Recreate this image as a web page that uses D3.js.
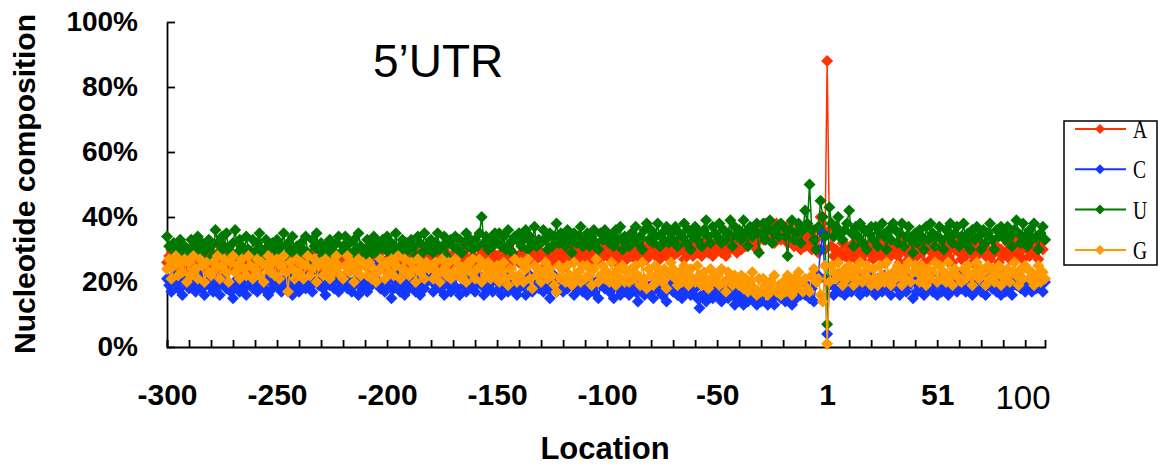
<!DOCTYPE html>
<html>
<head>
<meta charset="utf-8">
<style>
  body { margin: 0; background: #fff; }
  svg { display: block; font-family: "Liberation Sans", Arial, sans-serif; }
</style>
</head>
<body>
<div id="chart"></div>
<script src="https://d3js.org/d3.v7.min.js"></script>
<script>
// categories: -300..-1 then 1..100
var locations = d3.range(-300, 0).concat(d3.range(1, 101));
var xLabelIdx = [0, 50, 100, 150, 200, 250, 300, 350];
var xLabelText = ["-300", "-250", "-200", "-150", "-100", "-50", "1", "51"];
var yTicks = [0, 20, 40, 60, 80, 100];
var seriesNames = ["A", "C", "U", "G"];

// percent values, one per location
var seriesA = [
  26,28,30,27,24,29,25,27,23,26, 28,25,27,24,29,26,23,27,25,28,
  24,27,25,29,26,23,28,25,27,24, 27,24,28,25,23,27,26,29,24,26,
  25,28,24,27,26,29,25,23,27,25, 27,24,26,28,25,27,23,26,28,24,
  26,28,25,23,27,25,29,26,24,27, 24,26,28,25,27,23,26,28,25,27,
  28,25,27,24,26,28,25,27,29,26, 25,27,24,28,26,25,27,29,26,24,
  27,25,28,26,24,27,29,25,27,26, 26,28,25,27,29,26,24,28,26,27,
  28,26,24,27,25,28,26,29,27,25, 26,29,27,25,28,26,30,27,25,28,
  27,25,28,30,26,28,25,27,29,26, 28,26,29,27,25,28,30,26,28,27,
  26,29,27,25,30,28,26,29,27,28, 29,27,25,28,30,26,29,27,31,28,
  27,30,28,26,29,31,27,28,30,26, 29,27,31,28,26,30,28,27,29,31,
  28,31,27,29,26,30,28,32,29,27, 30,28,31,27,29,32,28,30,27,31,
  29,32,28,30,27,31,29,28,32,30, 28,31,29,33,30,27,31,29,32,28,
  31,29,32,28,30,33,29,31,28,32, 30,33,29,31,28,32,30,34,31,29,
  32,30,34,31,35,33,36,32,30,34, 36,33,38,35,37,34,32,38,36,33,
  37,35,32,38,34,31,36,33,30,35, 31,34,32,30,36,33,29,40,38,30,
  88,
  36,31,28,30,27,29,32,28,31,27, 29,32,27,30,33,28,26,31,29,32,
  27,30,33,28,31,26,29,32,28,30, 31,28,26,30,33,29,27,31,28,32,
  28,31,29,26,32,30,27,33,29,28, 30,27,32,29,28,31,26,30,33,29,
  27,30,28,33,29,26,31,28,32,30, 31,28,30,27,33,29,31,26,30,28,
  29,32,27,30,28,33,29,31,27,32, 30,28,33,29,31,27,32,30,33
];
var seriesC = [
  21,19,17,22,20,18,21,16,20,19, 18,21,19,17,20,22,18,16,20,19,
  20,17,21,19,16,20,22,18,19,17, 15,19,21,17,20,18,16,21,19,18,
  20,17,22,19,18,21,16,20,18,22, 19,21,17,20,18,22,19,16,21,18,
  17,20,22,18,21,19,17,20,22,19, 21,18,16,20,19,22,18,21,17,20,
  19,22,18,20,17,19,21,16,20,18, 20,17,21,19,22,24,26,18,20,17,
  19,21,15,18,20,22,17,19,16,21, 18,20,22,17,19,16,21,18,20,22,
  21,17,19,22,18,20,16,21,19,17, 19,22,18,16,21,19,17,20,22,18,
  17,20,22,19,16,21,18,20,17,22, 20,18,16,21,19,17,22,18,20,16,
  18,21,19,16,20,22,17,19,21,18, 21,17,20,18,15,19,22,17,20,19,
  17,20,18,22,19,16,21,18,20,17, 19,16,21,18,17,20,15,19,21,18,
  20,17,19,15,21,18,16,20,17,19, 16,19,21,17,14,18,20,16,19,17,
  19,15,18,20,17,16,19,14,18,20, 17,20,16,18,15,19,17,20,16,18,
  18,15,12,16,19,14,17,19,15,18, 16,19,14,17,20,15,18,16,13,17,
  15,17,13,16,14,18,15,17,13,16, 14,16,18,13,17,15,13,16,18,15,
  17,14,18,16,13,17,15,19,16,18, 16,19,15,18,14,20,22,30,35,21,
  4,
  19,21,16,18,22,17,20,16,19,21, 17,20,22,18,16,21,19,17,20,22,
  18,16,21,19,17,22,18,20,16,19, 21,18,16,20,22,17,19,21,15,20,
  17,21,19,16,20,18,22,17,19,16, 20,17,22,19,16,21,18,20,17,22,
  18,21,17,20,19,16,21,18,22,17, 20,16,19,22,18,21,17,19,16,20,
  17,20,18,16,21,19,22,18,20,17, 19,21,17,20,18,22,19,17,20
];
var seriesU = [
  34,31,27,32,29,30,33,28,31,27, 30,33,28,31,34,29,32,27,30,33,
  31,28,36,32,29,34,31,35,30,28, 32,36,29,33,31,28,34,30,27,33,
  29,32,35,30,28,33,31,27,32,30, 33,29,31,35,28,32,30,34,29,31,
  28,32,30,34,29,27,33,31,35,30, 32,28,31,29,33,30,27,32,34,29,
  31,34,29,32,28,33,30,35,31,28, 30,33,28,31,34,29,32,30,33,31,
  34,29,32,30,35,28,31,33,29,32, 30,33,31,28,34,32,29,35,31,30,
  33,29,32,35,30,31,34,28,32,33, 31,34,30,33,29,32,35,31,33,30,
  33,31,35,40,32,34,30,33,31,35, 32,35,31,34,30,36,32,29,34,33,
  35,31,33,36,30,34,32,37,31,33, 32,36,33,30,35,31,34,38,32,35,
  34,31,36,33,29,35,32,34,37,31, 33,35,31,34,36,32,30,35,33,36,
  35,32,34,31,36,33,37,30,34,32, 31,35,33,37,32,34,30,36,38,33,
  36,32,34,38,31,35,33,37,32,35, 33,37,31,35,34,38,32,36,30,34,
  37,33,35,31,36,39,34,32,37,35, 34,38,32,36,33,35,39,31,37,34,
  36,33,39,35,31,37,34,36,38,29, 35,38,33,36,39,32,35,37,34,38,
  37,34,28,36,39,33,35,38,32,36, 42,38,50,36,33,30,37,45,40,34,
  7,
  43,38,34,37,40,35,33,36,38,42, 35,31,37,34,38,32,36,30,35,37,
  33,37,31,35,38,34,30,36,33,38, 36,32,35,38,31,34,37,33,29,35,
  32,36,34,30,37,33,38,35,31,34, 37,33,30,36,34,38,32,35,37,31,
  34,38,32,35,30,36,33,37,34,30, 36,32,35,38,33,30,36,34,37,35,
  33,37,34,31,36,39,35,32,38,34, 31,36,33,38,34,30,35,37,33
];
var seriesG = [
  24,27,21,25,28,22,26,23,27,20, 26,22,28,24,21,27,25,20,26,23,
  22,26,24,28,21,25,27,23,20,26, 28,23,25,21,27,24,22,28,25,21,
  24,27,22,26,20,25,28,23,26,22, 27,21,25,28,23,17,26,24,21,27,
  23,26,21,25,28,22,24,27,20,25, 26,22,27,24,21,26,23,28,25,22,
  21,25,28,23,26,20,24,27,22,26, 25,22,26,21,24,20,23,27,25,21,
  26,23,27,22,25,28,21,24,27,23, 22,26,24,20,27,23,25,21,26,24,
  25,21,26,23,20,27,24,22,26,21, 23,27,22,25,21,24,20,26,23,27,
  21,24,27,20,25,22,26,21,24,22, 25,20,23,26,21,19,24,22,27,20,
  22,26,20,24,27,21,18,25,22,24, 20,23,26,21,24,22,19,17,25,21,
  24,20,25,22,19,26,21,23,20,25, 21,25,22,19,24,27,20,22,25,21,
  23,20,26,22,19,24,21,25,20,23, 20,24,21,25,22,19,26,21,18,24,
  22,19,25,21,23,20,24,18,22,26, 24,21,19,23,20,25,22,19,24,21,
  20,25,22,19,23,21,18,24,20,22, 22,19,24,20,17,23,21,19,22,20,
  19,22,18,21,17,20,23,18,16,21, 17,21,19,16,20,18,22,17,19,16,
  20,17,22,19,16,21,18,23,20,17, 21,18,17,22,24,20,21,16,14,25,
  1,
  20,25,23,21,26,22,19,24,21,25, 22,19,24,21,26,20,23,25,21,19,
  24,21,19,25,22,20,26,22,19,23, 21,25,22,19,24,21,26,20,23,25,
  23,20,25,22,19,24,21,23,26,20, 25,21,23,20,26,22,19,24,22,21,
  20,24,21,25,22,19,23,26,21,24, 23,19,25,21,24,20,22,25,19,23,
  21,24,20,23,26,22,19,24,21,25, 24,21,23,19,22,25,20,23,21
];
var seriesColors = ["#ff3300", "#1438ff", "#007800", "#ff9900"];
var seriesValues = [seriesA, seriesC, seriesU, seriesG];

var svg = d3.select("#chart").append("svg")
    .attr("width", 1159)
    .attr("height", 465);

var x = d3.scaleLinear().domain([0, locations.length - 1]).range([167, 1045]);
var y = d3.scaleLinear().domain([0, 100]).range([347, 22]);

// y axis, ticks pointing into the plot
var yAxis = svg.append("g")
    .attr("transform", "translate(167,0)")
    .call(d3.axisLeft(y).tickValues(yTicks).tickFormat(function (d) { return d + "%"; })
      .tickSize(-8).tickSizeOuter(0).tickPadding(29));
yAxis.attr("font-family", "'Liberation Sans', Arial, sans-serif")
    .attr("font-size", 28).attr("font-weight", "bold");
yAxis.selectAll("text").attr("fill", "#000");
yAxis.selectAll("line, path").attr("stroke", "#000").attr("stroke-width", 1.8);

// x axis, tick every 10 categories
var xAxis = svg.append("g")
    .attr("transform", "translate(0,347)")
    .call(d3.axisBottom(x).tickValues(d3.range(0, 400, 10))
      .tickFormat(function (i) {
        var k = xLabelIdx.indexOf(i);
        return k < 0 ? "" : xLabelText[k];
      })
      .tickSize(-7).tickSizeOuter(-7).tickPadding(37));
xAxis.attr("font-family", "'Liberation Sans', Arial, sans-serif")
    .attr("font-size", 30).attr("font-weight", "bold");
xAxis.selectAll("text").attr("fill", "#000");
xAxis.selectAll("line, path").attr("stroke", "#000").attr("stroke-width", 1.8);

// last label was typed on separately in the original
svg.append("text")
    .attr("x", x(locations.length - 1) - 22)
    .attr("y", 409)
    .attr("text-anchor", "middle")
    .attr("font-size", 33)
    .text("100");

// series
var line = d3.line()
    .x(function (d, i) { return x(i); })
    .y(function (d) { return y(d); });

function diamond(r) {
  return "M0," + (-r) + "L" + r + ",0L0," + r + "L" + (-r) + ",0Z";
}

seriesValues.forEach(function (vals, s) {
  var g = svg.append("g");
  g.append("path")
    .attr("d", line(vals))
    .attr("fill", "none")
    .attr("stroke", seriesColors[s])
    .attr("stroke-width", 1.5);
  g.selectAll("path.pt")
    .data(vals)
    .enter().append("path")
    .attr("class", "pt")
    .attr("d", diamond(6))
    .attr("transform", function (d, i) { return "translate(" + x(i) + "," + y(d) + ")"; })
    .attr("fill", seriesColors[s]);
});

// titles
svg.append("text")
    .attr("x", 373).attr("y", 77)
    .attr("font-size", 46)
    .text("5\u2019UTR");

svg.append("text")
    .attr("x", 605).attr("y", 459)
    .attr("text-anchor", "middle")
    .attr("font-size", 31).attr("font-weight", "bold")
    .text("Location");

svg.append("text")
    .attr("transform", "translate(35,184) rotate(-90)")
    .attr("text-anchor", "middle")
    .attr("font-size", 30).attr("font-weight", "bold")
    .text("Nucleotide composition");

// legend
var legend = svg.append("g");
legend.append("rect")
    .attr("x", 1064).attr("y", 121)
    .attr("width", 93).attr("height", 144)
    .attr("fill", "#fff").attr("stroke", "#000").attr("stroke-width", 1.5);

seriesNames.forEach(function (name, s) {
  var ly = 129 + s * 40.3;
  legend.append("line")
    .attr("x1", 1075).attr("x2", 1126)
    .attr("y1", ly).attr("y2", ly)
    .attr("stroke", seriesColors[s]).attr("stroke-width", 2);
  legend.append("path")
    .attr("d", diamond(5))
    .attr("transform", "translate(1100," + ly + ")")
    .attr("fill", seriesColors[s]);
  legend.append("text")
    .attr("transform", "translate(1133," + (ly + 9) + ") scale(0.75,1)")
    .attr("font-family", "'Liberation Serif', 'DejaVu Serif', serif")
    .attr("font-size", 26)
    .text(name);
});
</script>
</body>
</html>
